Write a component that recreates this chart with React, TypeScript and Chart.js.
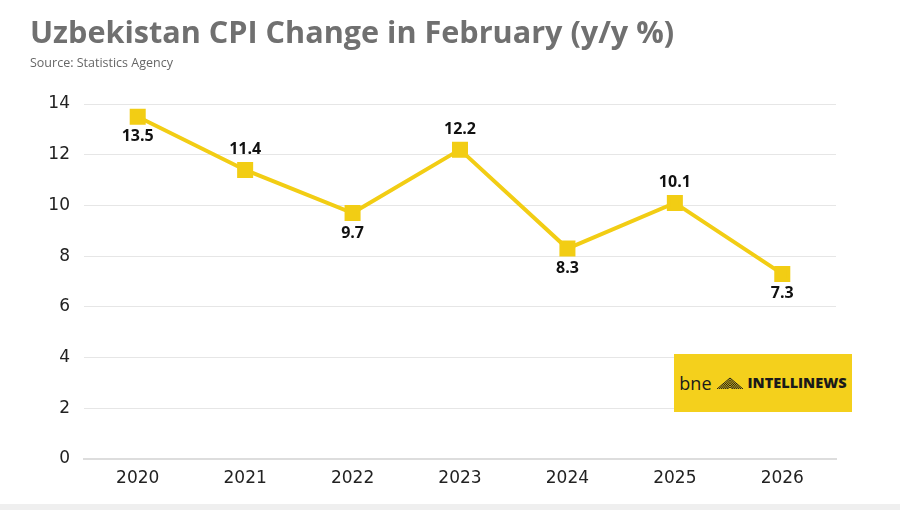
import React, { useEffect, useRef } from "react";
import { Chart, registerables } from "chart.js";

Chart.register(...registerables);

const years = ["2020", "2021", "2022", "2023", "2024", "2025", "2026"];
const cpiValues = [13.5, 11.4, 9.7, 12.2, 8.3, 10.1, 7.3];
const labelBelow = [true, false, true, false, true, false, true];
const yTicks = [0, 2, 4, 6, 8, 10, 12, 14];

const LINE_COLOR = "#F2CD14";

const labelPlugin = {
  id: "pointLabels",
  afterDatasetsDraw(chart: any) {
    const ctx = chart.ctx;
    const meta = chart.getDatasetMeta(0);
    ctx.save();
    ctx.font = "bold 16px 'Open Sans'";
    ctx.fillStyle = "#111111";
    ctx.textAlign = "center";
    ctx.textBaseline = "middle";
    meta.data.forEach((pt: any, i: number) => {
      const dy = labelBelow[i] ? 20 : -20;
      ctx.fillText(cpiValues[i].toFixed(1), pt.x, pt.y + dy);
    });
    ctx.restore();
  },
};

export default function App() {
  const ref = useRef<HTMLCanvasElement | null>(null);

  useEffect(() => {
    document.body.style.margin = "0";
    const chart = new Chart(ref.current as HTMLCanvasElement, {
      type: "line",
      data: {
        labels: years,
        datasets: [
          {
            data: cpiValues,
            borderColor: LINE_COLOR,
            backgroundColor: LINE_COLOR,
            borderWidth: 4,
            pointStyle: "rect",
            pointRadius: 8.5,
            pointHoverRadius: 8.5,
            tension: 0,
          },
        ],
      },
      options: {
        animation: false,
        responsive: false,
        maintainAspectRatio: false,
        layout: { padding: { left: 0, right: 64, top: 104, bottom: 0 } },
        plugins: { legend: { display: false }, tooltip: { enabled: false } },
        scales: {
          x: {
            offset: true,
            grid: { display: false, drawTicks: false },
            border: { display: true, color: "#dddddd", width: 2 },
            ticks: {
              color: "#222222",
              font: { family: "'DejaVu Sans'", size: 17 },
              padding: 9,
            },
            afterFit: (s: any) => {
              s.height = 51;
            },
          },
          y: {
            min: 0,
            max: 14,
            afterBuildTicks: (s: any) => {
              s.ticks = yTicks.map((v) => ({ value: v }));
            },
            grid: { color: "#e6e6e6", lineWidth: 1, drawTicks: false },
            border: { display: false },
            ticks: {
              color: "#222222",
              font: { family: "'DejaVu Sans'", size: 17 },
              padding: 14,
            },
            afterFit: (s: any) => {
              s.width = 84;
            },
          },
        },
      },
      plugins: [labelPlugin],
    });
    return () => chart.destroy();
  }, []);

  return (
    <div
      style={{
        position: "fixed",
        left: 0,
        top: 0,
        width: 900,
        height: 510,
        background: "#ffffff",
        overflow: "hidden",
      }}
    >
      <canvas ref={ref} width={900} height={510} style={{ position: "absolute", left: 0, top: 0 }} />
      <div
        style={{
          position: "absolute",
          left: 30,
          top: 11,
          fontFamily: "'Open Sans'",
          fontWeight: 700,
          fontSize: 30.6,
          lineHeight: "40px",
          color: "#707070",
          whiteSpace: "nowrap",
        }}
      >
        Uzbekistan CPI Change in February (y/y %)
      </div>
      <div
        style={{
          position: "absolute",
          left: 30,
          top: 54,
          fontFamily: "'Open Sans'",
          fontSize: 12.5,
          lineHeight: "18px",
          color: "#666666",
          whiteSpace: "nowrap",
        }}
      >
        Source: Statistics Agency
      </div>
      <div
        style={{
          position: "absolute",
          left: 674,
          top: 354,
          width: 178,
          height: 58,
          background: "#F4D01C",
          display: "flex",
          alignItems: "center",
          justifyContent: "center",
          gap: 4,
        }}
      >
        <span style={{ fontFamily: "'Open Sans'", fontSize: 18, color: "#1a1a1a", lineHeight: 1 }}>bne</span>
        <svg width="28" height="12" viewBox="0 0 28 12">
          {[0, 2, 4, 6, 8, 10].map((o) => (
            <polyline
              key={o}
              points={`${1 + o},12 14,${1 + o * 0.9} ${27 - o},12`}
              fill="none"
              stroke="#1a1a1a"
              strokeWidth={1}
            />
          ))}
        </svg>
        <span
          style={{
            fontFamily: "'Open Sans'",
            fontWeight: 800,
            fontSize: 14.5,
            color: "#1a1a1a",
            lineHeight: 1,
          }}
        >
          INTELLINEWS
        </span>
      </div>
      <div
        style={{
          position: "absolute",
          left: 0,
          top: 504,
          width: 900,
          height: 6,
          background: "#efefef",
        }}
      />
    </div>
  );
}
